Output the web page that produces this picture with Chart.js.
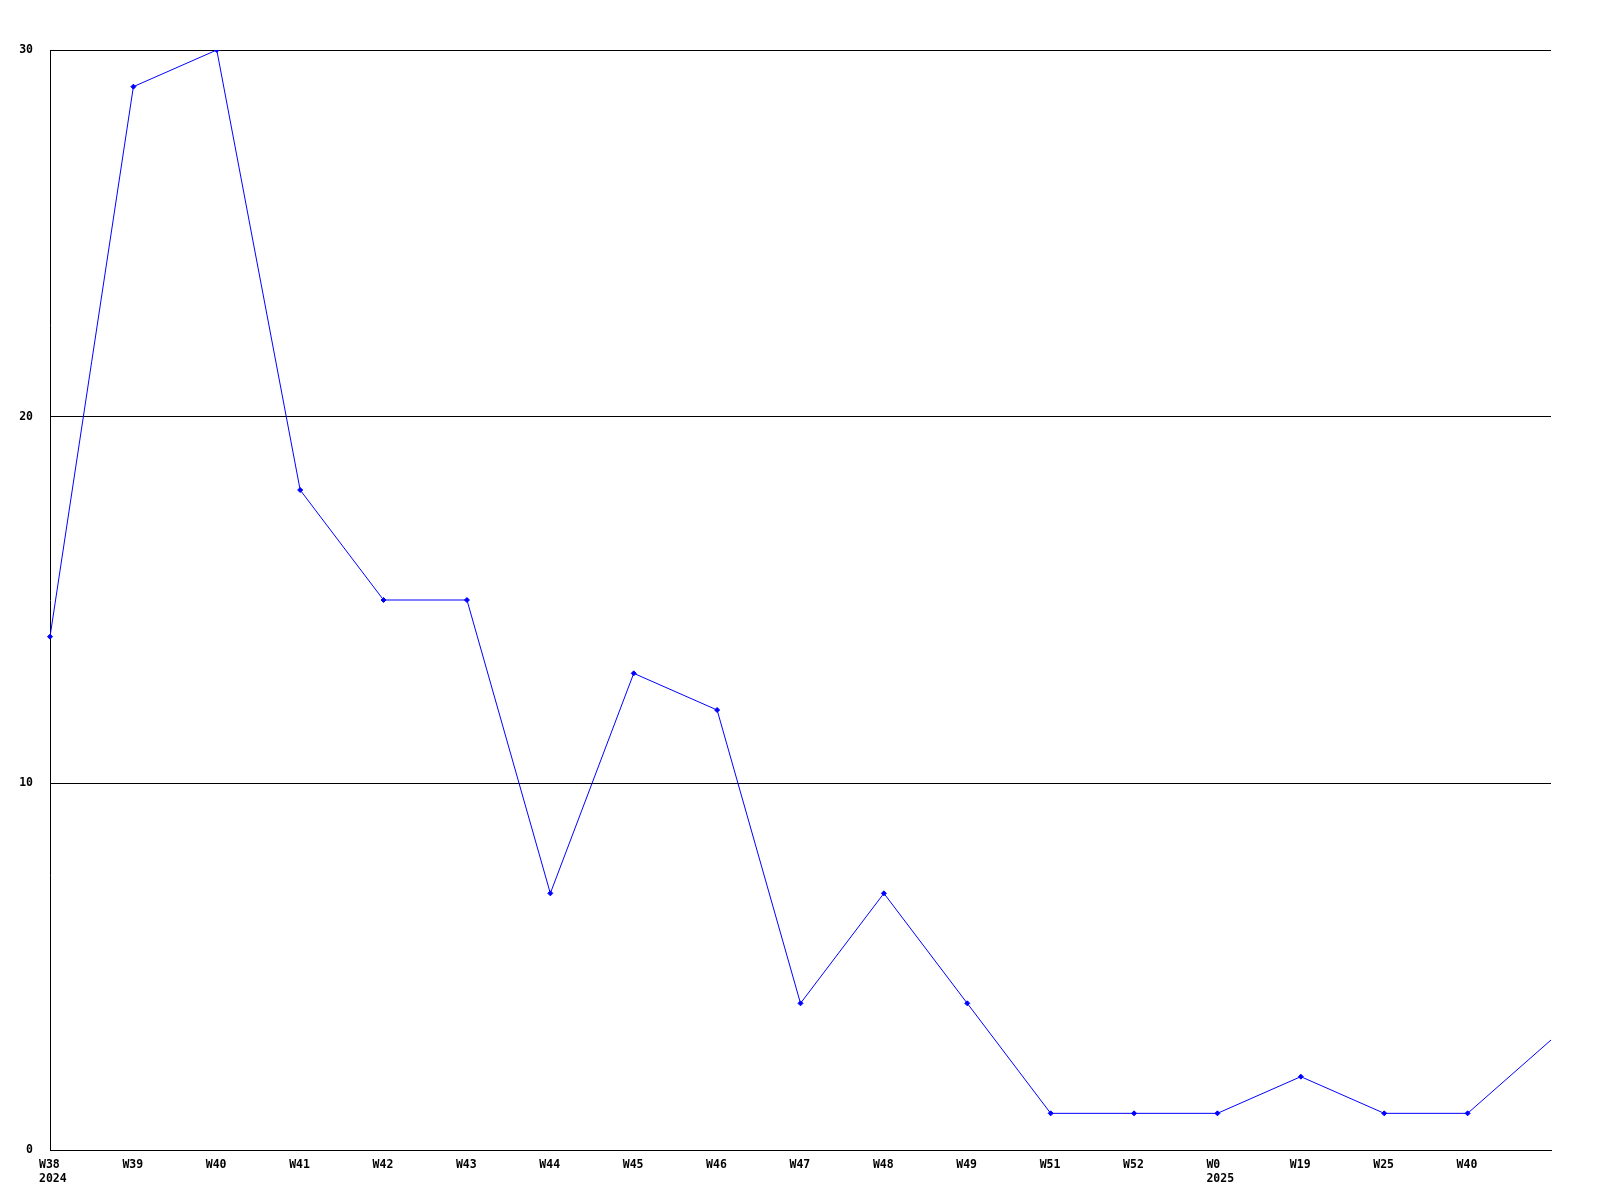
<!DOCTYPE html>
<html>
<head>
<meta charset="utf-8">
<script src="https://cdn.jsdelivr.net/npm/chart.js@4"></script>
<style>
  html, body { margin: 0; padding: 0; background: #fff; }
  canvas { display: block; }
</style>
</head>
<body>
<canvas id="chart" width="1600" height="1200"></canvas>
<script>
// week labels (second line = year where it changes)
const weeks = ['W38', 'W39', 'W40', 'W41', 'W42', 'W43', 'W44', 'W45', 'W46', 'W47',
               'W48', 'W49', 'W51', 'W52', 'W0', 'W19', 'W25', 'W40', ''];
const years = ['2024', '', '', '', '', '', '', '', '', '', '', '', '', '', '2025', '', '', '', ''];
const counts = [14, 29, 30, 18, 15, 15, 7, 13, 12, 4, 7, 4, 1, 1, 1, 2, 1, 1, 3];
const yTicks = [0, 10, 20, 30];

const labels = weeks.map((w, i) => years[i] ? [w, years[i]] : w);
const tickFont = { family: '"DejaVu Sans Mono", monospace', size: 11.5, weight: 'bold' };

const ctx = document.getElementById('chart').getContext('2d');
new Chart(ctx, {
  type: 'line',
  data: {
    labels: labels,
    datasets: [{
      data: counts,
      borderColor: '#0000ff',
      backgroundColor: '#0000ff',
      borderWidth: 1,
      pointStyle: 'rectRot',
      // the last point runs off the edge without a marker
      pointRadius: c => c.dataIndex === counts.length - 1 ? 0 : 2.5,
      pointHoverRadius: c => c.dataIndex === counts.length - 1 ? 0 : 2.5,
      tension: 0,
      fill: false
    }]
  },
  options: {
    responsive: false,
    animation: false,
    layout: { padding: { left: 0, top: 50, right: 49, bottom: 0 } },
    plugins: { legend: { display: false }, tooltip: { enabled: false } },
    scales: {
      x: {
        offset: false,
        grid: { color: 'transparent', drawTicks: false },
        border: { display: true, color: '#000', width: 1 },
        ticks: {
          color: '#000', font: tickFont, padding: 8, maxRotation: 0, autoSkip: false,
          align: 'start', labelOffset: -11
        },
        afterFit: s => { s.height = 50; }
      },
      y: {
        min: 0,
        max: 30,
        afterBuildTicks: s => { s.ticks = yTicks.map(v => ({ value: v })); },
        grid: { color: '#000', lineWidth: 1, drawTicks: false },
        border: { display: true, color: '#000', width: 1 },
        ticks: { color: '#000', font: tickFont, padding: 17 },
        afterFit: s => { s.width = 50; }
      }
    }
  }
});
</script>
</body>
</html>
